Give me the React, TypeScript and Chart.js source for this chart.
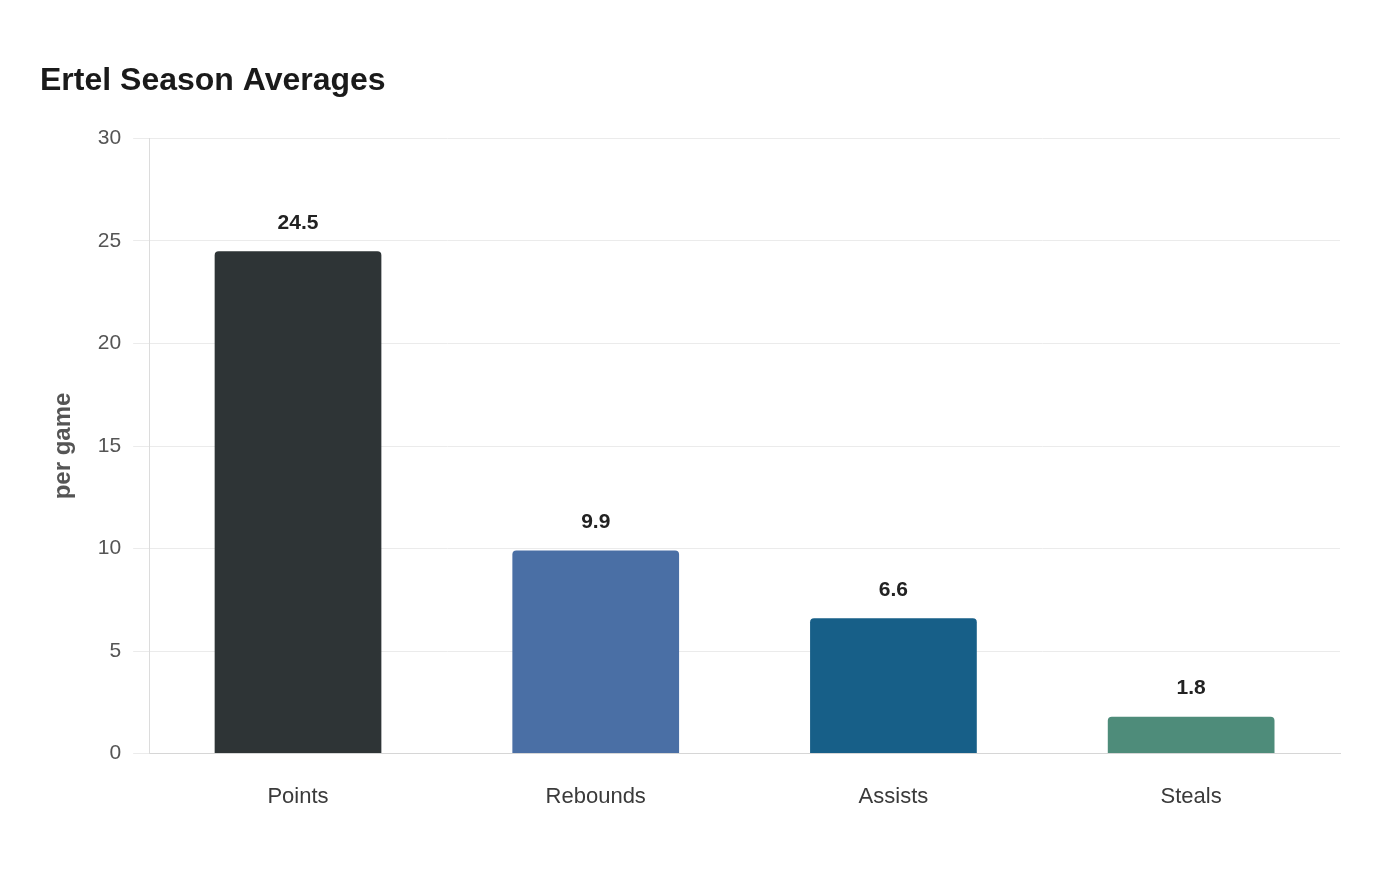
import React, { useEffect, useRef } from "react";
import { Chart, registerables } from "chart.js";

Chart.register(...registerables);

const categories = ["Points", "Rebounds", "Assists", "Steals"];
const values = [24.5, 9.9, 6.6, 1.8];
const barColors = ["#2e3436", "#4a6fa5", "#175f88", "#4e8c7a"];
const yTicks = [0, 5, 10, 15, 20, 25, 30];
const chartTitle = "Ertel Season Averages";
const yTitle = "per game";

const FONT = "'Liberation Sans', Arial, sans-serif";

const valueLabels = {
  id: "valueLabels",
  afterDatasetsDraw(chart: any) {
    const ctx = chart.ctx;
    const meta = chart.getDatasetMeta(0);
    ctx.save();
    ctx.font = `bold 21px ${FONT}`;
    ctx.fillStyle = "#222222";
    ctx.textAlign = "center";
    ctx.textBaseline = "middle";
    meta.data.forEach((el: any, i: number) => {
      ctx.fillText(values[i].toFixed(1), el.x, el.y - 28);
    });
    ctx.restore();
  },
};

export default function App() {
  const ref = useRef<HTMLCanvasElement | null>(null);
  useEffect(() => {
    if (!ref.current) return;
    const chart = new Chart(ref.current, {
      type: "bar",
      data: {
        labels: categories,
        datasets: [
          {
            data: values,
            backgroundColor: barColors,
            borderRadius: { topLeft: 4, topRight: 4, bottomLeft: 0, bottomRight: 0 },
            borderSkipped: "bottom",
            categoryPercentage: 0.8,
            barPercentage: 0.7,
          },
        ],
      },
      options: {
        animation: false,
        responsive: true,
        maintainAspectRatio: false,
        layout: { padding: { left: 40, right: 60, top: 62, bottom: 40 } },
        plugins: {
          legend: { display: false },
          tooltip: { enabled: false },
          title: {
            display: true,
            text: chartTitle,
            align: "start",
            color: "#1a1a1a",
            font: { family: FONT, size: 32, weight: "bold" },
            padding: { top: 0, bottom: 38 },
          },
        },
        scales: {
          x: {
            grid: { display: false, drawTicks: false },
            border: { display: true, color: "#d6d6d6" },
            ticks: {
              color: "#3a3a3a",
              padding: 30,
              font: { family: FONT, size: 22 },
            },
          },
          y: {
            min: 0,
            max: 30,
            afterBuildTicks: (axis: any) => {
              axis.ticks = yTicks.map((v) => ({ value: v }));
            },
            grid: { color: "#ebebeb", tickLength: 16 },
            border: { display: true, color: "#dcdcdc" },
            ticks: {
              color: "#555555",
              padding: 12,
              font: { family: FONT, size: 21 },
            },
            title: {
              display: true,
              text: yTitle,
              color: "#555555",
              font: { family: FONT, size: 24, weight: "bold" },
              padding: { top: 9, bottom: 8 },
            },
          },
        },
      },
      plugins: [valueLabels],
    });
    return () => chart.destroy();
  }, []);
  return (
    <div style={{ position: "absolute", left: 0, top: 0, width: 1400, height: 880, background: "#ffffff" }}>
      <canvas ref={ref} />
    </div>
  );
}
